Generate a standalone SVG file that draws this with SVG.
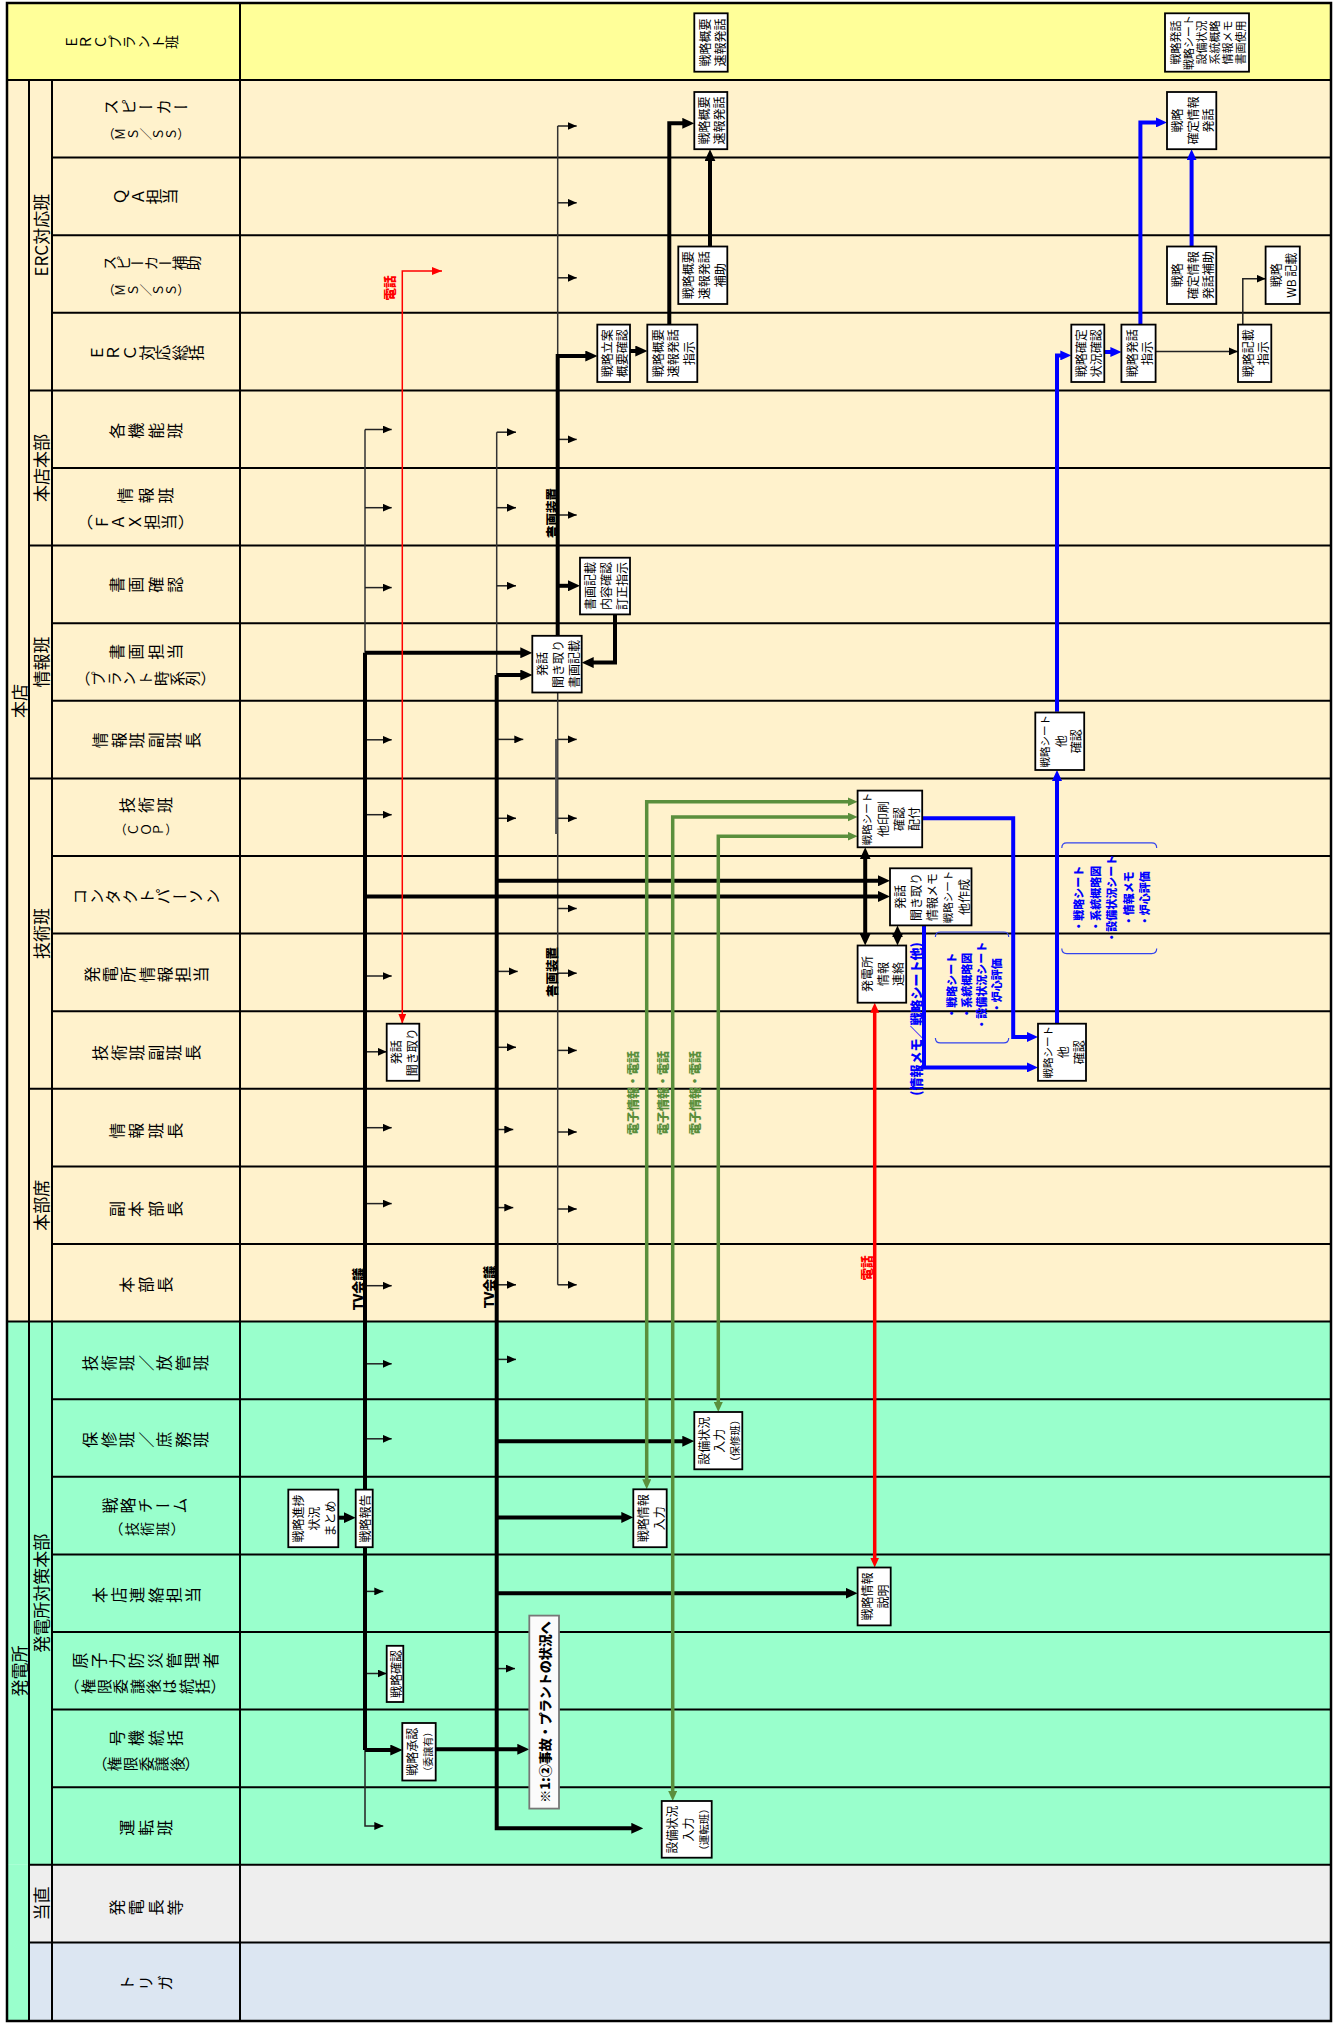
<svg xmlns="http://www.w3.org/2000/svg" width="1335" height="2024" viewBox="0 0 1335 2024">
<defs>
<style>
text{font-family:'Noto Sans CJK JP','Noto Sans CJK SC',sans-serif;fill:#000}
.ln{font-size:16px;writing-mode:vertical-rl;text-anchor:middle}
.sg{font-size:17px;text-anchor:middle;dominant-baseline:central}
.bt{font-size:12px;text-anchor:middle;dominant-baseline:central}
.bl{font-size:12.5px;font-weight:bold;text-anchor:middle;dominant-baseline:central}
.bx{fill:#fff;stroke:#000;stroke-width:1.8}
.gl{stroke:#000;stroke-width:2;fill:none}
.tl{stroke:#333;stroke-width:1.5;fill:none}
.ta{stroke:#222;stroke-width:1.5;fill:none;marker-end:url(#mt)}
.tk{stroke:#000;stroke-width:4;fill:none}
.tka{stroke:#000;stroke-width:4;fill:none;marker-end:url(#mT)}
.tkd{stroke:#000;stroke-width:4;fill:none;marker-end:url(#mT);marker-start:url(#mT)}
.bu{stroke:#0000FF;stroke-width:4;fill:none;marker-end:url(#mb)}
.gr{stroke:#5A8F3C;stroke-width:3.5;fill:none;marker-end:url(#mg);marker-start:url(#mg)}
.rd{stroke:#FF0000;stroke-width:1.5;fill:none;marker-end:url(#mr);marker-start:url(#mr)}
.rd2{stroke:#FF0000;stroke-width:3.5;fill:none;marker-end:url(#mR);marker-start:url(#mR)}
.brk{stroke:#3344EE;stroke-width:1.2;fill:none}
.blu{fill:#0000FF}
.grn{fill:#5A8F3C}
.red{fill:#FF0000}
.hv{font-weight:900}
</style>
<marker id="mt" viewBox="0 0 9 8" refX="9" refY="4" markerWidth="9" markerHeight="8" markerUnits="userSpaceOnUse" orient="auto-start-reverse"><path d="M0,0L9,4L0,8z" fill="#000"/></marker>
<marker id="mT" viewBox="0 0 12 11" refX="4" refY="5.5" markerWidth="12" markerHeight="11" markerUnits="userSpaceOnUse" orient="auto-start-reverse"><path d="M0,0L12,5.5L0,11z" fill="#000"/></marker>
<marker id="mb" viewBox="0 0 11 10" refX="3" refY="5" markerWidth="11" markerHeight="10" markerUnits="userSpaceOnUse" orient="auto-start-reverse"><path d="M0,0L11,5L0,10z" fill="#0000FF"/></marker>
<marker id="mg" viewBox="0 0 10 9" refX="3" refY="4.5" markerWidth="10" markerHeight="9" markerUnits="userSpaceOnUse" orient="auto-start-reverse"><path d="M0,0L10,4.5L0,9z" fill="#5A8F3C"/></marker>
<marker id="mr" viewBox="0 0 10 8" refX="10" refY="4" markerWidth="10" markerHeight="8" markerUnits="userSpaceOnUse" orient="auto-start-reverse"><path d="M0,0L10,4L0,8z" fill="#FF0000"/></marker>
<marker id="mR" viewBox="0 0 10 9" refX="3" refY="4.5" markerWidth="10" markerHeight="9" markerUnits="userSpaceOnUse" orient="auto-start-reverse"><path d="M0,0L10,4.5L0,9z" fill="#FF0000"/></marker>
</defs>

<g id="background">
<rect x="7" y="3" width="1324" height="77" fill="#FFFF99"/>
<rect x="7" y="80" width="1324" height="1241.6" fill="#FFF2CC"/>
<rect x="7" y="1321.6" width="1324" height="543.2" fill="#99FFCC"/>
<rect x="7" y="1864.8" width="22" height="156.2" fill="#99FFCC"/>
<rect x="29" y="1864.8" width="1302" height="77.6" fill="#EEEEEE"/>
<rect x="29" y="1942.4" width="1302" height="78.6" fill="#DCE6F2"/>
</g>

<g id="grid" class="gl">
<path d="M7,80H1331"/>
<path d="M52,157.6H1331M52,235.2H1331M52,312.8H1331M29,390.4H1331M52,468H1331M29,545.6H1331M52,623.2H1331M52,700.8H1331M29,778.4H1331M52,856H1331M52,933.6H1331M52,1011.2H1331M29,1088.8H1331M52,1166.4H1331M52,1244H1331M7,1321.6H1331M52,1399.2H1331M52,1476.8H1331M52,1554.4H1331M52,1632H1331M52,1709.6H1331M52,1787.2H1331M29,1864.8H1331M29,1942.4H1331"/>
<path d="M29,80V2021M52,80V2021M240,3V2021"/>
<rect x="7" y="3" width="1324" height="2018" stroke-width="2.5"/>
</g>

<g id="header-labels">
<text class="ln" style="font-size:14px" x="122" y="42" transform="rotate(-90 122 42)" textLength="114" lengthAdjust="spacing">ＥＲＣプラント班</text>
<text class="sg" transform="translate(18,701) rotate(-90)">本店</text>
<text class="sg" transform="translate(18,1671) rotate(-90)">発電所</text>
<text class="sg" transform="translate(40.5,235.2) rotate(-90)">ERC対応班</text>
<text class="sg" transform="translate(40.5,468) rotate(-90)">本店本部</text>
<text class="sg" transform="translate(40.5,662) rotate(-90)">情報班</text>
<text class="sg" transform="translate(40.5,933.6) rotate(-90)">技術班</text>
<text class="sg" transform="translate(40.5,1205.2) rotate(-90)">本部席</text>
<text class="sg" transform="translate(40.5,1593.2) rotate(-90)">発電所対策本部</text>
<text class="sg" transform="translate(40.5,1903.6) rotate(-90)">当直</text>

<text class="ln" x="146" y="107" transform="rotate(-90 146 107)" textLength="86" lengthAdjust="spacing">スピーカー</text>
<text class="ln" style="font-size:12.5px" x="146" y="134" transform="rotate(-90 146 134)" textLength="88" lengthAdjust="spacing">（ＭＳ／ＳＳ）</text>
<text class="ln" x="146" y="196.4" transform="rotate(-90 146 196.4)" textLength="64" lengthAdjust="spacing">ＱＡ担当</text>
<text class="ln" style="font-size:15px" x="151.5" y="263" transform="rotate(-90 151.5 263)" textLength="99" lengthAdjust="spacing">スピーカー補助</text>
<text class="ln" style="font-size:12.5px" x="146" y="290" transform="rotate(-90 146 290)" textLength="88" lengthAdjust="spacing">（ＭＳ／ＳＳ）</text>
<text class="ln" x="146.5" y="352.7" transform="rotate(-90 146.5 352.7)" textLength="115" lengthAdjust="spacing">ＥＲＣ対応総括</text>
<text class="ln" x="146" y="430.8" transform="rotate(-90 146 430.8)" textLength="74" lengthAdjust="spacing">各機能班</text>
<text class="ln" x="145.5" y="495.5" transform="rotate(-90 145.5 495.5)" textLength="57" lengthAdjust="spacing">情報班</text>
<text class="ln" style="font-size:15.5px" x="135.5" y="522" transform="rotate(-90 135.5 522)" textLength="116" lengthAdjust="spacing">（ＦＡＸ担当）</text>
<text class="ln" x="146" y="584.8" transform="rotate(-90 146 584.8)" textLength="74" lengthAdjust="spacing">書画確認</text>
<text class="ln" x="146" y="651.8" transform="rotate(-90 146 651.8)" textLength="74" lengthAdjust="spacing">書画担当</text>
<text class="ln" style="font-size:15px" x="145.5" y="678.6" transform="rotate(-90 145.5 678.6)" textLength="141" lengthAdjust="spacing">（プラント時系列）</text>
<text class="ln" x="146.5" y="740.2" transform="rotate(-90 146.5 740.2)" textLength="109" lengthAdjust="spacing">情報班副班長</text>
<text class="ln" x="146" y="805" transform="rotate(-90 146 805)" textLength="54" lengthAdjust="spacing">技術班</text>
<text class="ln" style="font-size:12.5px" x="146" y="829.5" transform="rotate(-90 146 829.5)" textLength="64" lengthAdjust="spacing">（ＣＯＰ）</text>
<text class="ln" x="146.5" y="896.4" transform="rotate(-90 146.5 896.4)" textLength="149" lengthAdjust="spacing">コンタクトパーソン</text>
<text class="ln" x="146.5" y="974.6" transform="rotate(-90 146.5 974.6)" textLength="125" lengthAdjust="spacing">発電所情報担当</text>
<text class="ln" x="146.5" y="1052.7" transform="rotate(-90 146.5 1052.7)" textLength="109" lengthAdjust="spacing">技術班副班長</text>
<text class="ln" x="146" y="1130.8" transform="rotate(-90 146 1130.8)" textLength="74" lengthAdjust="spacing">情報班長</text>
<text class="ln" x="146" y="1209" transform="rotate(-90 146 1209)" textLength="74" lengthAdjust="spacing">副本部長</text>
<text class="ln" x="146" y="1284.8" transform="rotate(-90 146 1284.8)" textLength="54" lengthAdjust="spacing">本部長</text>
<text class="ln" x="145.5" y="1363" transform="rotate(-90 145.5 1363)" textLength="127" lengthAdjust="spacing">技術班／放管班</text>
<text class="ln" x="145.5" y="1439.8" transform="rotate(-90 145.5 1439.8)" textLength="127" lengthAdjust="spacing">保修班／庶務班</text>
<text class="ln" x="145" y="1505.5" transform="rotate(-90 145 1505.5)" textLength="86" lengthAdjust="spacing">戦略チーム</text>
<text class="ln" style="font-size:14px" x="147" y="1529" transform="rotate(-90 147 1529)" textLength="76" lengthAdjust="spacing">（技術班）</text>
<text class="ln" x="146.5" y="1595" transform="rotate(-90 146.5 1595)" textLength="109" lengthAdjust="spacing">本店連絡担当</text>
<text class="ln" x="145.5" y="1660.6" transform="rotate(-90 145.5 1660.6)" textLength="147" lengthAdjust="spacing">原子力防災管理者</text>
<text class="ln" style="font-size:15px" x="145" y="1686.5" transform="rotate(-90 145 1686.5)" textLength="162" lengthAdjust="spacing">（権限委譲後は統括）</text>
<text class="ln" x="146" y="1738" transform="rotate(-90 146 1738)" textLength="74" lengthAdjust="spacing">号機統括</text>
<text class="ln" style="font-size:14.5px" x="146" y="1764" transform="rotate(-90 146 1764)" textLength="108" lengthAdjust="spacing">（権限委譲後）</text>
<text class="ln" x="146" y="1827.8" transform="rotate(-90 146 1827.8)" textLength="54" lengthAdjust="spacing">運転班</text>
<text class="ln" x="146" y="1907.4" transform="rotate(-90 146 1907.4)" textLength="74" lengthAdjust="spacing">発電長等</text>
<text class="ln" x="146" y="1983" transform="rotate(-90 146 1983)" textLength="54" lengthAdjust="spacing">トリガ</text>
</g>

<g id="connectors">
<path class="tl" d="M365,429.5V652.8M496.7,432.2V675"/>
<path class="tl" stroke="#555" d="M557.7,126V1284.8"/>
<path d="M556.3,739V834" stroke="#555" stroke-width="2.5" fill="none"/>
<path class="ta" d="M365,429.5H391.7"/>
<path class="ta" d="M365,507.7H391.7"/>
<path class="ta" d="M365,587.6H391.7"/>
<path class="ta" d="M365,739.8H391.7"/>
<path class="ta" d="M365,814.7H391.7"/>
<path class="ta" d="M365,976H391.7"/>
<path class="ta" d="M365,1051.8H386.7"/>
<path class="ta" d="M365,1127.7H391.7"/>
<path class="ta" d="M365,1203.6H391.7"/>
<path class="ta" d="M365,1285.7H391.7"/>
<path class="ta" d="M365,1363.8H391.7"/>
<path class="ta" d="M365,1438.8H391.7"/>
<path class="ta" d="M365,1591.4H383.3"/>
<path class="ta" d="M365,1673.5H386.7"/>
<path class="ta" d="M365,1750V1826H383.3"/>
<path class="ta" d="M496.7,432.2H516"/>
<path class="ta" d="M496.7,507.7H516"/>
<path class="ta" d="M496.7,585.8H516"/>
<path class="ta" d="M496.7,739.4H523.3"/>
<path class="ta" d="M496.7,818.3H516"/>
<path class="ta" d="M496.7,971.4H517.7"/>
<path class="ta" d="M496.7,1047.3H516"/>
<path class="ta" d="M496.7,1129.5H513.3"/>
<path class="ta" d="M496.7,1207.6H513.3"/>
<path class="ta" d="M496.7,1284.8H516"/>
<path class="ta" d="M496.7,1359.4H516"/>
<path class="ta" d="M496.7,1668.6H515"/>
<path class="ta" d="M557.7,126H576.7"/>
<path class="ta" d="M557.7,202.8H576.7"/>
<path class="ta" d="M557.7,277.8H576.7"/>
<path class="ta" d="M557.7,439.4H576.7"/>
<path class="ta" d="M557.7,515H576.7"/>
<path class="ta" d="M557.7,739.4H576.7"/>
<path class="ta" d="M557.7,818.3H576.7"/>
<path class="ta" d="M557.7,908.5H576.7"/>
<path class="ta" d="M557.7,973.2H576.7"/>
<path class="ta" d="M557.7,1050.4H576.7"/>
<path class="ta" d="M557.7,1132H576.7"/>
<path class="ta" d="M557.7,1209H576.7"/>
<path class="ta" d="M557.7,1284.8H576.7"/>
<path class="ta" d="M1155.6,351.4H1238"/>
<path class="ta" d="M1242.8,324.6V278.7H1265.6"/>
<path class="tk" d="M365,652.8V1750"/>
<path class="tka" d="M496.7,675V1828.3H635.3"/>
<path class="tka" d="M365,652.8H524.3"/>
<path class="tka" d="M496.7,675H524.3"/>
<path class="tka" d="M365,896.4H882"/>
<path class="tka" d="M496.7,880.8H882"/>
<path class="tka" d="M365,1750H394.3"/>
<path class="tka" d="M496.7,1441.2H686.3"/>
<path class="tka" d="M496.7,1517.4H625.3"/>
<path class="tka" d="M496.7,1593.2H849.6"/>
<path class="tka" d="M338.3,1517.7H347.7"/>
<path class="tka" d="M435.7,1749.3H521.3"/>
<path class="tka" d="M630,351H639.3"/>
<path class="tka" d="M669.3,324.6V123.3H686.3"/>
<path class="tka" d="M710,246.5V157.2"/>
<path class="tka" d="M557.7,635.8V356H589.3"/>
<path class="tka" d="M557.7,585.8H572"/>
<path class="tka" d="M615,614.4V662.6H589.7"/>
<path class="tkd" d="M865.2,855.3V937.5"/>
<path class="tkd" d="M897.5,933.4V937.5"/>
<path class="bu" d="M1057,711.7V355.4H1063.3"/>
<path class="bu" d="M1104.3,352H1113.4"/>
<path class="bu" d="M1140.4,324.6V122.4H1159"/>
<path class="bu" d="M1191.6,246.5V157.2"/>
<path class="bu" d="M1057,1023.7V778"/>
<path class="bu" d="M922.2,818.3H1013.2V1037H1030"/>
<path class="bu" d="M924,925.4V1067.4H1030"/>
<path class="gr" d="M646.7,1482.3V801.8H850.6"/>
<path class="gr" d="M672.7,1794V817H850.6"/>
<path class="gr" d="M718.3,1405V836.2H850.6"/>
<path class="rd" d="M442,271H402.3V1023.7"/>
<path class="rd2" d="M874.7,1009.7V1560.5"/>
<path class="brk" d="M935.4,937Q935.4,932 940.4,932H1003.7Q1008.7,932 1008.7,937"/>
<path class="brk" d="M935.4,1037.9Q935.4,1042.9 940.4,1042.9H1003.7Q1008.7,1042.9 1008.7,1037.9"/>
<path class="brk" d="M1061.8,847.9Q1061.8,842.9 1066.8,842.9H1151.7Q1156.7,842.9 1156.7,847.9"/>
<path class="brk" d="M1061.8,948.6Q1061.8,953.6 1066.8,953.6H1151.7Q1156.7,953.6 1156.7,948.6"/>
</g>

<g id="connector-labels">
<text class="bl hv" style="font-size:13px" transform="translate(357,1289) rotate(-90)">TV会議</text>
<text class="bl hv" style="font-size:13px" transform="translate(488,1287) rotate(-90)">TV会議</text>
<text class="bl hv" transform="translate(551,513) rotate(-90)">書画装置</text>
<text class="bl hv" transform="translate(551,972) rotate(-90)">書画装置</text>
<text class="bl hv red" style="font-size:12.5px" transform="translate(389,288) rotate(-90)">電話</text>
<text class="bl hv red" style="font-size:12.5px" transform="translate(866,1268) rotate(-90)">電話</text>
<text class="bl hv grn" style="font-size:12px" transform="translate(632.5,1093) rotate(-90)">電子情報・電話</text>
<text class="bl hv grn" style="font-size:12px" transform="translate(662.5,1093) rotate(-90)">電子情報・電話</text>
<text class="bl hv grn" style="font-size:12px" transform="translate(694,1093) rotate(-90)">電子情報・電話</text>
<text class="bl hv blu" style="font-size:13px" transform="translate(915,1019) rotate(-90)">(情報メモ／戦略シート他)</text>
<text class="bl hv blu" style="font-size:11px" transform="translate(973,985.7) rotate(-90)"><tspan x="0" y="-22.5">・戦略シート</tspan><tspan x="0" y="-7.5">・系統概略図</tspan><tspan x="0" y="7.5">・設備状況シート</tspan><tspan x="0" y="22.5">・炉心評価</tspan></text>
<text class="bl hv blu" style="font-size:11px" transform="translate(1111,898.7) rotate(-90)"><tspan x="0" y="-33">・戦略シート</tspan><tspan x="0" y="-16.5">・系統概略図</tspan><tspan x="0" y="0">・設備状況シート</tspan><tspan x="0" y="16.5">・情報メモ</tspan><tspan x="0" y="33">・炉心評価</tspan></text>
</g>

<g id="nodes">
<g id="n-erc-sokuho"><rect class="bx" x="694.3" y="13.3" width="33.4" height="58.4"/><text class="bt" transform="translate(711,42.5) rotate(-90)"><tspan x="0" y="-7.5">戦略概要</tspan><tspan x="0" y="7.5">速報発話</tspan></text></g>
<g id="n-erc-senryaku"><rect class="bx" x="1165" y="13.3" width="84" height="58.4"/><text class="bt" style="font-size:11px" transform="translate(1207,42.5) rotate(-90)"><tspan x="0" y="-32.5">戦略発話</tspan><tspan x="0" y="-19.5">戦略シート</tspan><tspan x="0" y="-6.5">設備状況</tspan><tspan x="0" y="6.5">系統概略</tspan><tspan x="0" y="19.5">情報メモ</tspan><tspan x="0" y="32.5">書画使用</tspan></text></g>
<g id="n-sp-sokuho"><rect class="bx" x="694.3" y="92" width="33" height="57.2"/><text class="bt" transform="translate(710.8,120.6) rotate(-90)"><tspan x="0" y="-7.5">戦略概要</tspan><tspan x="0" y="7.5">速報発話</tspan></text></g>
<g id="n-spa-sokuho"><rect class="bx" x="678.3" y="246.5" width="49" height="57.5"/><text class="bt" transform="translate(702.8,275.2) rotate(-90)"><tspan x="0" y="-16">戦略概要</tspan><tspan x="0" y="0">速報発話</tspan><tspan x="0" y="16">補助</tspan></text></g>
<g id="n-ritsuan"><rect class="bx" x="597.3" y="324.6" width="32.7" height="57.4"/><text class="bt" transform="translate(613.6,353.3) rotate(-90)"><tspan x="0" y="-7.5">戦略立案</tspan><tspan x="0" y="7.5">概要確認</tspan></text></g>
<g id="n-sokuho-shiji"><rect class="bx" x="647.3" y="324.6" width="50" height="57.4"/><text class="bt" transform="translate(672.3,353.3) rotate(-90)"><tspan x="0" y="-15.5">戦略概要</tspan><tspan x="0" y="0">速報発話</tspan><tspan x="0" y="15.5">指示</tspan></text></g>
<g id="n-kakutei-hatsuwa"><rect class="bx" x="1167" y="92" width="49.3" height="57.2"/><text class="bt" transform="translate(1191.6,120.6) rotate(-90)"><tspan x="0" y="-15.5">戦略</tspan><tspan x="0" y="0">確定情報</tspan><tspan x="0" y="15.5">発話</tspan></text></g>
<g id="n-kakutei-hojo"><rect class="bx" x="1167" y="246.5" width="49.3" height="57.5"/><text class="bt" transform="translate(1191.6,275.2) rotate(-90)"><tspan x="0" y="-15.5">戦略</tspan><tspan x="0" y="0">確定情報</tspan><tspan x="0" y="15.5">発話補助</tspan></text></g>
<g id="n-wb"><rect class="bx" x="1265.6" y="246.5" width="34.2" height="57.5"/><text class="bt" transform="translate(1282.7,275.2) rotate(-90)"><tspan x="0" y="-7.5">戦略</tspan><tspan x="0" y="7.5">WB 記載</tspan></text></g>
<g id="n-kakutei-kakunin"><rect class="bx" x="1071.3" y="324.6" width="33" height="57.4"/><text class="bt" transform="translate(1087.8,353.3) rotate(-90)"><tspan x="0" y="-7.5">戦略確定</tspan><tspan x="0" y="7.5">状況確認</tspan></text></g>
<g id="n-hatsuwa-shiji"><rect class="bx" x="1121.4" y="324.6" width="34.2" height="57.4"/><text class="bt" transform="translate(1138.5,353.3) rotate(-90)"><tspan x="0" y="-7.5">戦略発話</tspan><tspan x="0" y="7.5">指示</tspan></text></g>
<g id="n-kisai-shiji"><rect class="bx" x="1238" y="324.6" width="33.3" height="57.4"/><text class="bt" transform="translate(1254.6,353.3) rotate(-90)"><tspan x="0" y="-7.5">戦略記載</tspan><tspan x="0" y="7.5">指示</tspan></text></g>
<g id="n-shoga-kakunin"><rect class="bx" x="580" y="557.7" width="50" height="56.7"/><text class="bt" transform="translate(605,586) rotate(-90)"><tspan x="0" y="-16">書画記載</tspan><tspan x="0" y="0">内容確認</tspan><tspan x="0" y="16">訂正指示</tspan></text></g>
<g id="n-shoga-kisai"><rect class="bx" x="532.3" y="635.8" width="49.4" height="56.7"/><text class="bt" transform="translate(557,664.1) rotate(-90)"><tspan x="0" y="-16">発話</tspan><tspan x="0" y="0">聞き取り</tspan><tspan x="0" y="16">書画記載</tspan></text></g>
<g id="n-sheet-kakunin1"><rect class="bx" x="1035.3" y="712.5" width="48.9" height="57.5"/><text class="bt" transform="translate(1059.7,741.2) rotate(-90)"><tspan x="0" y="-15.5" style="font-size:10.5px">戦略シート</tspan><tspan x="0" y="0">他</tspan><tspan x="0" y="15.5">確認</tspan></text></g>
<g id="n-sheet-insatsu"><rect class="bx" x="857.6" y="790.6" width="64.6" height="56.7"/><text class="bt" transform="translate(889.9,819) rotate(-90)"><tspan x="0" y="-23.5" style="font-size:10.5px">戦略シート</tspan><tspan x="0" y="-8">他印刷</tspan><tspan x="0" y="8">確認</tspan><tspan x="0" y="23.5">配付</tspan></text></g>
<g id="n-contact"><rect class="bx" x="890" y="868.3" width="81.5" height="57.1"/><text class="bt" transform="translate(930.7,896.9) rotate(-90)"><tspan x="0" y="-32">発話</tspan><tspan x="0" y="-16">聞き取り</tspan><tspan x="0" y="0">情報メモ</tspan><tspan x="0" y="16" style="font-size:10.5px">戦略シート</tspan><tspan x="0" y="32">他作成</tspan></text></g>
<g id="n-hatsudensho-renraku"><rect class="bx" x="857.6" y="945.5" width="48.6" height="57.2"/><text class="bt" transform="translate(881.9,974.1) rotate(-90)"><tspan x="0" y="-15.5">発電所</tspan><tspan x="0" y="0">情報</tspan><tspan x="0" y="15.5">連絡</tspan></text></g>
<g id="n-sheet-kakunin2"><rect class="bx" x="1038" y="1023.7" width="48" height="57.1"/><text class="bt" transform="translate(1062,1052.3) rotate(-90)"><tspan x="0" y="-15.5" style="font-size:10.5px">戦略シート</tspan><tspan x="0" y="0">他</tspan><tspan x="0" y="15.5">確認</tspan></text></g>
<g id="n-kikitori"><rect class="bx" x="386.7" y="1023.7" width="32.6" height="57.1"/><text class="bt" transform="translate(403,1052.3) rotate(-90)"><tspan x="0" y="-8">発話</tspan><tspan x="0" y="8">聞き取り</tspan></text></g>
<g id="n-setsubi-hoshu"><rect class="bx" x="694.3" y="1412" width="48" height="57.3"/><text class="bt" transform="translate(718.3,1440.7) rotate(-90)"><tspan x="0" y="-15.5">設備状況</tspan><tspan x="0" y="0">入力</tspan><tspan x="0" y="15.5" style="font-size:10.5px">（保修班）</tspan></text></g>
<g id="n-senryaku-nyuryoku"><rect class="bx" x="633.3" y="1489.3" width="33.4" height="57.9"/><text class="bt" transform="translate(650,1518.3) rotate(-90)"><tspan x="0" y="-8">戦略情報</tspan><tspan x="0" y="8">入力</tspan></text></g>
<g id="n-matome"><rect class="bx" x="288.3" y="1489.6" width="50" height="57.6"/><text class="bt" transform="translate(313.3,1518.4) rotate(-90)"><tspan x="0" y="-16">戦略進捗</tspan><tspan x="0" y="0">状況</tspan><tspan x="0" y="16">まとめ</tspan></text></g>
<g id="n-hokoku"><rect class="bx" x="355.7" y="1489.6" width="17" height="57.6"/><text class="bt" transform="translate(364.2,1518.4) rotate(-90)">戦略報告</text></g>
<g id="n-setsumei"><rect class="bx" x="857.6" y="1567.5" width="33.1" height="57.9"/><text class="bt" transform="translate(874.2,1596.5) rotate(-90)"><tspan x="0" y="-8">戦略情報</tspan><tspan x="0" y="8">説明</tspan></text></g>
<g id="n-kakunin"><rect class="bx" x="386.7" y="1645.8" width="16.6" height="56.2"/><text class="bt" transform="translate(395,1673.9) rotate(-90)">戦略確認</text></g>
<g id="n-shonin"><rect class="bx" x="402.3" y="1723" width="33.4" height="57.5"/><text class="bt" transform="translate(419,1751.8) rotate(-90)"><tspan x="0" y="-8">戦略承認</tspan><tspan x="0" y="8" style="font-size:10px">（委譲有）</tspan></text></g>
<g id="n-note"><rect x="529.3" y="1615.6" width="29.7" height="193" fill="#FBFBFB" stroke="#777" stroke-width="1.8"/><text class="bl hv" style="font-size:13px" transform="translate(544.2,1712.1) rotate(-90)">※1:②事故・プラントの状況へ</text></g>
<g id="n-setsubi-unten"><rect class="bx" x="661.7" y="1801" width="50" height="56.7"/><text class="bt" transform="translate(686.7,1829.4) rotate(-90)"><tspan x="0" y="-16">設備状況</tspan><tspan x="0" y="0">入力</tspan><tspan x="0" y="16" style="font-size:10.5px">（運転班）</tspan></text></g>
</g>
</svg>
